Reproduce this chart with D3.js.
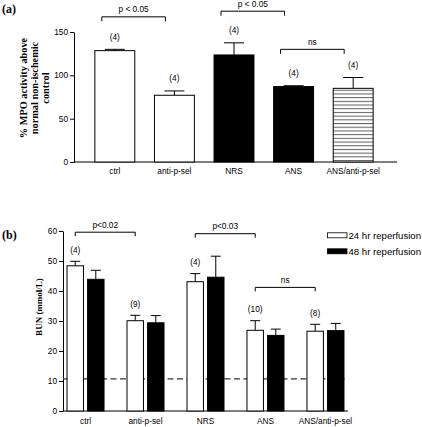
<!DOCTYPE html>
<html><head><meta charset="utf-8">
<script src="https://cdn.jsdelivr.net/npm/d3@7/dist/d3.min.js"></script>
<style>
html,body{margin:0;padding:0;background:#fff;}
svg{display:block;}
text{font-family:"Liberation Sans",Arial,sans-serif;fill:#000;}
.serif{font-family:"Liberation Serif","Times New Roman",serif;font-weight:bold;}
</style></head>
<body>
<svg id="chart" width="422" height="427"></svg>
<script>
// ---------- data ----------
const categories = ["ctrl", "anti-p-sel", "NRS", "ANS", "ANS/anti-p-sel"];
// panel (a): % MPO activity
const mpoMean = [128.5, 77, 123.5, 87, 85];
const mpoErr  = [1.5, 5, 14, 1, 12.5];
const mpoN    = ["(4)", "(4)", "(4)", "(4)", "(4)"];
const mpoTicks = [0, 50, 100, 150];
const mpoBrackets = [
  {from: "ctrl", to: "anti-p-sel", level: 167.5, label: "p < 0.05"},
  {from: "NRS", to: "ANS", level: 174, label: "p < 0.05"},
  {from: "ANS", to: "ANS/anti-p-sel", level: 130, label: "ns"}
];
// panel (b): BUN
const seriesNames = ["24 hr reperfusion", "48 hr reperfusion"];
const bun24    = [48.4, 30.1, 43.1, 26.9, 26.6];
const bun24Err = [1.5, 1.8, 2.7, 3.2, 2.3];
const bun48    = [43.9, 29.4, 44.6, 25.2, 26.8];
const bun48Err = [3.0, 2.4, 7.0, 2.1, 2.4];
const bunN     = ["(4)", "(9)", "(4)", "(10)", "(8)"];
const bunTicks = [0, 10, 20, 30, 40, 50, 60];
const bunNormal = 10.7;
const bunBrackets = [
  {from: "ctrl", to: "anti-p-sel", level: 59.6, label: "p<0.02"},
  {from: "NRS", to: "ANS", level: 59.1, label: "p<0.03"},
  {from: "ANS", to: "ANS/anti-p-sel", level: 41.2, label: "ns"}
];

// ---------- drawing ----------
const svg = d3.select("#chart");
const defs = svg.append("defs");
const pat = defs.append("pattern").attr("id", "stripes")
  .attr("patternUnits", "userSpaceOnUse").attr("width", 8).attr("height", 3.7);
pat.append("rect").attr("width", 8).attr("height", 3.7).attr("fill", "#fff");
pat.append("line").attr("x1", 0).attr("x2", 8).attr("y1", 1.5).attr("y2", 1.5)
  .attr("stroke", "#444").attr("stroke-width", 0.9);

const fillA = {"ctrl": "#fff", "anti-p-sel": "#fff", "NRS": "#000", "ANS": "#000", "ANS/anti-p-sel": "url(#stripes)"};
const FS = 8.3;

// ===== Panel (a) =====
const gA = svg.append("g");
const xA = d3.scaleBand().domain(categories).range([74, 394]).paddingInner(0.33).paddingOuter(0.35);
const yA = d3.scaleLinear().domain([0, 150]).range([162, 32]);

const axA = gA.append("g").attr("transform", "translate(74,0)")
  .call(d3.axisLeft(yA).tickValues(mpoTicks).tickSize(4).tickSizeOuter(0).tickPadding(2));
axA.selectAll("text").style("font-size", FS + "px");
axA.select(".domain").attr("stroke-width", 1);
gA.append("line").attr("x1", 74).attr("x2", 397).attr("y1", yA(0)).attr("y2", yA(0)).attr("stroke", "#000");

const dataA = categories.map((c, i) => ({c, m: mpoMean[i], e: mpoErr[i], n: mpoN[i]}));
// error bars (upwards)
gA.selectAll(".errA").data(dataA).join("g").each(function(d) {
  const g = d3.select(this), cx = xA(d.c) + xA.bandwidth() / 2;
  g.append("line").attr("x1", cx).attr("x2", cx).attr("y1", yA(d.m)).attr("y2", yA(d.m + d.e)).attr("stroke", "#000");
  g.append("line").attr("x1", cx - 10).attr("x2", cx + 10).attr("y1", yA(d.m + d.e)).attr("y2", yA(d.m + d.e)).attr("stroke", "#000");
  g.append("text").attr("x", cx).attr("y", yA(d.m + d.e) - 9.5).attr("text-anchor", "middle").style("font-size", FS + "px").text(d.n);
});
gA.selectAll(".barA").data(dataA).join("rect")
  .attr("x", d => xA(d.c)).attr("width", xA.bandwidth())
  .attr("y", d => yA(d.m)).attr("height", d => yA(0) - yA(d.m))
  .attr("fill", d => fillA[d.c]).attr("stroke", "#000").attr("stroke-width", 1);
gA.selectAll(".labA").data(categories).join("text")
  .attr("x", d => xA(d) + xA.bandwidth() / 2).attr("y", 174).attr("text-anchor", "middle")
  .style("font-size", FS + "px").text(d => d);

mpoBrackets.forEach(b => {
  const x1 = xA(b.from) + xA.bandwidth() / 2 - 13, x2 = xA(b.to) + xA.bandwidth() / 2 - 9, y = yA(b.level);
  gA.append("path").attr("d", `M${x1},${y + 4.5}V${y}H${x2}V${y + 4.5}`).attr("fill", "none").attr("stroke", "#000");
  gA.append("text").attr("x", (x1 + x2) / 2).attr("y", y - 4.5).attr("text-anchor", "middle").style("font-size", FS + "px").text(b.label);
});

svg.append("text").attr("class", "serif").attr("x", 2).attr("y", 12.5).style("font-size", "12px").text("(a)");
const titleA = ["% MPO activity above", "normal non-ischemic", "control"];
titleA.forEach((t, i) => {
  svg.append("text").attr("class", "serif").attr("text-anchor", "middle")
    .attr("transform", `translate(${26.5 + i * 11.3},88) rotate(-90)`).style("font-size", "10.3px").text(t);
});

// ===== Panel (b) =====
const gB = svg.append("g");
const xB = d3.scaleBand().domain(categories).range([63, 348]).paddingInner(0.383).paddingOuter(0.067);
const xS = d3.scaleBand().domain(seriesNames).range([0, xB.bandwidth()]).paddingInner(0.2);
const yB = d3.scaleLinear().domain([0, 60]).range([411, 231]);

const axB = gB.append("g").attr("transform", "translate(63,0)")
  .call(d3.axisLeft(yB).tickValues(bunTicks).tickSize(4).tickSizeOuter(0).tickPadding(2));
axB.selectAll("text").style("font-size", FS + "px");
gB.append("line").attr("x1", 63).attr("x2", 348).attr("y1", yB(0)).attr("y2", yB(0)).attr("stroke", "#000");
gB.append("line").attr("x1", 63).attr("x2", 348).attr("y1", yB(bunNormal)).attr("y2", yB(bunNormal))
  .attr("stroke", "#333").attr("stroke-dasharray", "6,3.5").attr("stroke-width", 1.2);

const dataB = [];
categories.forEach((c, i) => {
  dataB.push({c, s: seriesNames[0], m: bun24[i], e: bun24Err[i], n: bunN[i]});
  dataB.push({c, s: seriesNames[1], m: bun48[i], e: bun48Err[i], n: null});
});
gB.selectAll(".errB").data(dataB).join("g").each(function(d) {
  const g = d3.select(this), cx = xB(d.c) + xS(d.s) + xS.bandwidth() / 2;
  const yt = yB(d.m + d.e);
  g.append("line").attr("x1", cx).attr("x2", cx).attr("y1", yB(d.m)).attr("y2", yt).attr("stroke", "#000");
  g.append("line").attr("x1", cx - 5).attr("x2", cx + 5).attr("y1", yt).attr("y2", yt).attr("stroke", "#000");
  if (d.n) g.append("text").attr("x", cx).attr("y", yt - 8.8).attr("text-anchor", "middle").style("font-size", FS + "px").text(d.n);
});
gB.selectAll(".barB").data(dataB).join("rect")
  .attr("x", d => xB(d.c) + xS(d.s)).attr("width", xS.bandwidth())
  .attr("y", d => yB(d.m)).attr("height", d => yB(0) - yB(d.m))
  .attr("fill", d => d.s === seriesNames[0] ? "#fff" : "#000").attr("stroke", "#000").attr("stroke-width", 1);
gB.selectAll(".labB").data(categories).join("text")
  .attr("x", d => xB(d) + xB.bandwidth() / 2).attr("y", 424).attr("text-anchor", "middle")
  .style("font-size", FS + "px").text(d => d);

bunBrackets.forEach(b => {
  const x1 = xB(b.from) + xS(seriesNames[0]) + xS.bandwidth() / 2;
  const x2 = xB(b.to) + xS(seriesNames[0]) + xS.bandwidth() / 2, y = yB(b.level);
  gB.append("path").attr("d", `M${x1},${y + 4}V${y}H${x2}V${y + 4}`).attr("fill", "none").attr("stroke", "#000");
  gB.append("text").attr("x", (x1 + x2) / 2).attr("y", y - 4.5).attr("text-anchor", "middle").style("font-size", FS + "px").text(b.label);
});

// legend
seriesNames.forEach((s, i) => {
  const y = 235.3 + i * 16;
  svg.append("rect").attr("x", 327.5).attr("y", y - 2.5).attr("width", 19.5).attr("height", 5)
    .attr("fill", i === 0 ? "#fff" : "#000").attr("stroke", "#000").attr("stroke-width", 0.8);
  svg.append("text").attr("x", 348.5).attr("y", y + 3.4).style("font-size", "9.6px").text(s);
});

svg.append("text").attr("class", "serif").attr("x", 2).attr("y", 238.5).style("font-size", "12px").text("(b)");
svg.append("text").attr("class", "serif").attr("text-anchor", "middle")
  .attr("transform", "translate(42,307) rotate(-90)").style("font-size", "9px").text("BUN (mmol/L)");
</script>
</body></html>
